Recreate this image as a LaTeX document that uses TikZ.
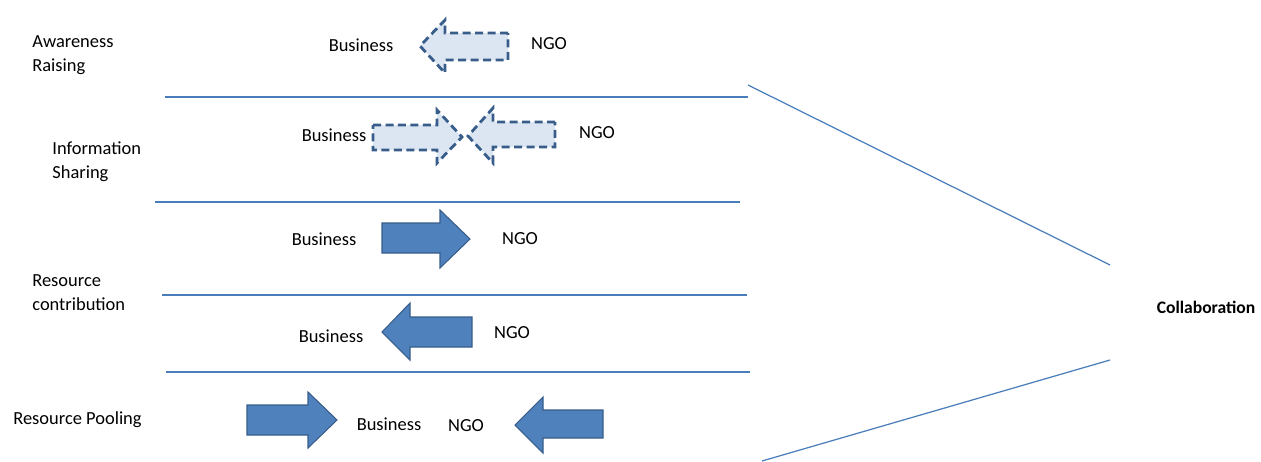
\documentclass[tikz,border=0pt]{standalone}
\usepackage{fontspec}
\setmainfont{Carlito}
\usetikzlibrary{positioning}

\definecolor{lineblue}{HTML}{4A7EBB}
\definecolor{arrowfill}{HTML}{4F81BD}
\definecolor{arrowedge}{HTML}{385D8A}
\definecolor{paleblue}{HTML}{DCE6F2}

\begin{document}
\begin{tikzpicture}[x=0.02cm,y=-0.02cm,
    every node/.style={font=\fontsize{10.5}{13.6}\selectfont,inner sep=0pt},
    stage/.style={anchor=west,align=left},
    party/.style={anchor=center},
    divider/.style={draw=lineblue,line width=0.7pt},
    solidarrow/.style={fill=arrowfill,draw=arrowedge,line width=0.6pt},
    dasharrow/.style={fill=paleblue,draw=arrowedge,line width=1.6pt,dash pattern=on 0.16cm off 0.09cm}
]
\useasboundingbox (0,0) rectangle (1261,461);

% Stage labels
\node[stage] (aware) at (32,55) {Awareness\\Raising};
\node[stage] (info) at (52,162) {Information\\Sharing};
\node[stage] (contrib) at (32,293) {Resource\\contribution};
\node[stage] (pool) at (13,420) {Resource Pooling};

% Row dividers
\draw[divider] (165,97) -- (748,97);
\draw[divider] (155,202) -- (740,202);
\draw[divider] (162,295) -- (747,295);
\draw[divider] (166,372) -- (750,372);

% Awareness raising
\node[party] (bus1) at (361,45) {Business};
\node[party] (ngo1) at (549,44) {NGO};
\draw[dasharrow] (508,33) -- (445,33) -- (445,20) -- (420,46) -- (445,73) -- (445,60) -- (508,60) -- cycle;

% Information sharing
\node[party] (bus2) at (334,135) {Business};
\node[party] (ngo2) at (597,133) {NGO};
\draw[dasharrow] (373,125) -- (437,125) -- (437,110) -- (462,137) -- (437,163) -- (437,150) -- (373,150) -- cycle;
\draw[dasharrow] (555,122) -- (493,122) -- (493,108) -- (468,136) -- (493,163) -- (493,147) -- (555,147) -- cycle;

% Resource contribution (business to ngo)
\node[party] (bus3) at (324,239) {Business};
\node[party] (ngo3) at (520,239) {NGO};
\draw[solidarrow] (382,223) -- (440,223) -- (440,210) -- (470,239) -- (440,268) -- (440,253) -- (382,253) -- cycle;

% Resource contribution (ngo to business)
\node[party] (bus4) at (331,336) {Business};
\node[party] (ngo4) at (512,333) {NGO};
\draw[solidarrow] (472,317) -- (410,317) -- (410,303) -- (382,332) -- (410,360) -- (410,347) -- (472,347) -- cycle;

% Resource pooling
\node[party] (bus5) at (389,424) {Business};
\node[party] (ngo5) at (466,426) {NGO};
\draw[solidarrow] (247,405) -- (308,405) -- (308,392) -- (337,420) -- (308,448) -- (308,435) -- (247,435) -- cycle;
\draw[solidarrow] (603,410) -- (543,410) -- (543,397) -- (515,425) -- (543,453) -- (543,438) -- (603,438) -- cycle;

% Collaboration
\node[font=\fontsize{10}{12}\selectfont\bfseries] (collab) at (1206,307) {Collaboration};
\coordinate (topend) at (748,85);
\coordinate (topjoin) at (1110,265);
\coordinate (botend) at (762,461);
\coordinate (botjoin) at (1110,360);
\draw[divider] (topend) -- (topjoin);
\draw[divider] (botend) -- (botjoin);

\end{tikzpicture}
\end{document}
